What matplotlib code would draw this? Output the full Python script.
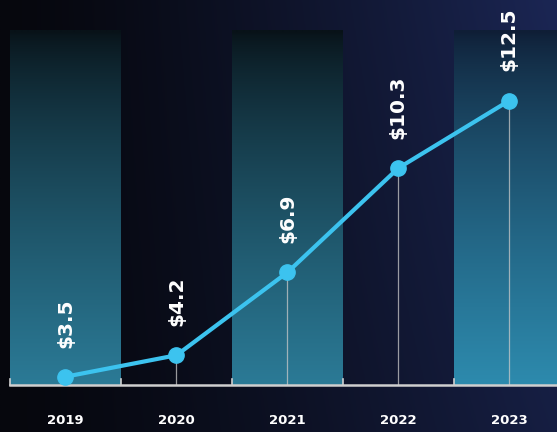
import numpy as np
import matplotlib
matplotlib.use("Agg")
import matplotlib.pyplot as plt
from matplotlib.colors import to_rgb

years = ["2019", "2020", "2021", "2022", "2023"]
values = [3.5, 4.2, 6.9, 10.3, 12.5]
labels = ["$3.5", "$4.2", "$6.9", "$10.3", "$12.5"]

W, H = 557, 432
fig = plt.figure(figsize=(W / 100, H / 100), dpi=100)

# background gradient
bg = fig.add_axes([0, 0, 1, 1], zorder=-10)
bg.axis("off")
nx, ny = 200, 200
xx = np.linspace(0, 1, nx)[None, :]
yy = np.linspace(0, 1, ny)[:, None]  # 0 top -> 1 bottom
left = np.array(to_rgb("#06070d"))
right = np.array(to_rgb("#1b2654"))
t = (xx ** 1.3) * (1 - 0.25 * yy)
img = left[None, None, :] * (1 - t[..., None]) + right[None, None, :] * t[..., None]
bg.imshow(img, aspect="auto", extent=[0, 1, 0, 1], origin="upper")
bg.set_xlim(0, 1)
bg.set_ylim(0, 1)

ax = fig.add_axes([10 / W, (H - 385) / H, 1 - 10 / W, 385 / H])
ax.patch.set_alpha(0)
x = np.arange(len(years))
ymin, ymax = 3.23, 15.78
ax.set_xlim(-0.5, 4.43)
ax.set_ylim(ymin, ymax)

# teal bands with vertical gradient
band_top = ymax - 30 / 30.67
top_c = np.array(to_rgb("#081218"))
bot_c = np.array(to_rgb("#2b7a96"))
grad = np.linspace(0, 1, 100)[:, None]
for i in range(0, len(years), 2):
    g = (grad ** 0.75)
    tc = top_c if i < 4 else np.array(to_rgb("#0f1e36"))
    bc = bot_c if i < 4 else np.array(to_rgb("#2d8aad"))
    col = tc[None, :] * (1 - g) + bc[None, :] * g
    band = np.repeat(col[:, None, :], 2, axis=1)
    ax.imshow(band, aspect="auto", extent=[i - 0.5, i + 0.5, ymin, band_top],
              origin="upper", zorder=0, interpolation="bilinear")

# vertical guide lines
for xi, v in zip(x, values):
    ax.plot([xi, xi], [ymin, v], color="#c9c9c9", lw=0.9, alpha=0.75, zorder=2)

ax.plot(x, values, color="#3cc3ef", lw=3, marker="o", markersize=11,
        markerfacecolor="#3cc3ef", markeredgecolor="#3cc3ef", zorder=4)

for xi, v, lab in zip(x, values, labels):
    ax.annotate(lab, (xi, v), xytext=(0, 21), textcoords="offset points",
                rotation=90, ha="center", va="bottom", color="white",
                fontsize=14.5, fontweight="bold", zorder=5)

# axis styling
for s in ["top", "right", "left"]:
    ax.spines[s].set_visible(False)
ax.spines["bottom"].set_color("#cfcfcf")
ax.spines["bottom"].set_linewidth(1.8)
ax.set_yticks([])
ax.set_xticks(x)
ax.set_xticklabels(years, color="white", fontsize=9.5, fontweight="bold")
ax.tick_params(axis="x", length=0, pad=21)
# small upward ticks at band edges
for e in np.arange(-0.5, 4.6, 1.0):
    ax.plot([e, e], [ymin, ymin + 6 / 30.67], color="#cfcfcf", lw=1.2,
            zorder=3, clip_on=False)

fig.savefig("out.png", dpi=100)
